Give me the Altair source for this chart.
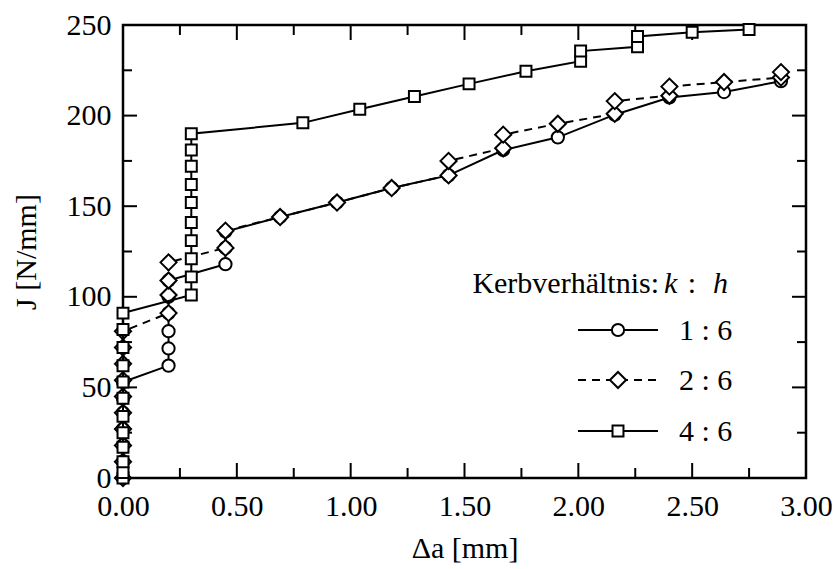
import altair as alt
import pandas as pd

# ---- data ----
series_names = ["1 : 6", "2 : 6", "4 : 6"]

da_16 = [0, 0, 0, 0, 0, 0, 0, 0.2, 0.2, 0.2, 0.2, 0.2, 0.2, 0.45, 0.45, 0.45,
         0.69, 0.94, 1.18, 1.43, 1.67, 1.91, 2.16, 2.40, 2.64, 2.89]
j_16 = [0, 9, 18, 27, 36, 44, 53, 62, 71.5, 81, 91, 100, 109, 118, 127, 136,
        144, 152, 160, 167, 181, 188, 200.5, 210, 213, 219]

da_26 = [0, 0, 0, 0, 0, 0, 0, 0, 0, 0, 0.2, 0.2, 0.2, 0.2, 0.45, 0.45,
         0.69, 0.94, 1.18, 1.43, 1.43, 1.67, 1.67, 1.91, 2.16, 2.16, 2.40, 2.40,
         2.64, 2.89, 2.89]
j_26 = [0, 9, 18, 27, 36, 45, 54, 63, 72, 81, 91, 101, 109, 119, 127, 136.5,
        144, 152, 160, 167, 175, 182, 189.5, 195.5, 201, 208, 211, 216,
        218.5, 221, 224]

da_46 = [0, 0, 0, 0, 0, 0, 0, 0, 0, 0, 0, 0,
         0.3, 0.3, 0.3, 0.3, 0.3, 0.3, 0.3, 0.3, 0.3, 0.3,
         0.79, 1.04, 1.28, 1.52, 1.77, 2.01, 2.01, 2.26, 2.26, 2.50, 2.75]
j_46 = [0, 3, 9, 17, 25, 34, 44, 53, 62, 72, 82, 91,
        101, 111, 121, 131, 141, 152, 162, 172, 181, 190,
        196, 203.5, 210.5, 217.5, 224.5, 230, 235.6, 238, 243.7, 246, 247.5]

x_ticks_major = [0, 0.5, 1.0, 1.5, 2.0, 2.5, 3.0]
x_ticks_minor = [0.25, 0.75, 1.25, 1.75, 2.25, 2.75]
y_ticks_major = [0, 50, 100, 150, 200, 250]
y_ticks_minor = [25, 75, 125, 175, 225]

W, H = 683, 453
FONT = "Liberation Serif"
FS = 30
LW = 2

xs = alt.Scale(domain=[0, 3], nice=False, zero=False)
ys = alt.Scale(domain=[0, 250], nice=False, zero=False)

X_AX = alt.Axis(
    values=x_ticks_major, format=".2f", title="Δa [mm]", grid=False,
    ticks=False, domain=False, labelPadding=13, labelFont=FONT,
    labelFontSize=FS, labelColor="black", titleFont=FONT, titleFontSize=FS,
    titleFontWeight="normal", titleColor="black", titleY=79,
    titleBaseline="alphabetic", labelFlush=False)
Y_AX = alt.Axis(
    values=y_ticks_major, format="d", title="J [N/mm]", grid=False,
    ticks=False, domain=False, labelPadding=12, labelFont=FONT,
    labelFontSize=FS, labelColor="black", titleFont=FONT, titleFontSize=FS,
    titleFontWeight="normal", titleColor="black", titleX=-88, titleY=H / 2,
    titleBaseline="alphabetic", labelFlush=False)


def X():
    return alt.X("da:Q", scale=xs, axis=X_AX)


def Y():
    return alt.Y("J:Q", scale=ys, axis=Y_AX)


def sdf(x, j):
    return pd.DataFrame({"da": x, "J": j, "idx": list(range(len(x)))})


def series_layers(x, j, shape, size, dash):
    d = sdf(x, j)
    line_kw = dict(color="black", strokeWidth=LW)
    if dash:
        line_kw["strokeDash"] = dash
    line = alt.Chart(d).mark_line(**line_kw).encode(x=X(), y=Y(), order="idx:Q")
    pts = alt.Chart(d).mark_point(
        shape=shape, size=size, filled=True, fill="white", stroke="black",
        strokeWidth=LW, opacity=1,
    ).encode(x=X(), y=Y())
    return [line, pts]


def xtick_layer(vals, length):
    d = pd.DataFrame({"da": vals})
    bot = alt.Chart(d).mark_rule(color="black", strokeWidth=LW).encode(
        x=X(), y=alt.value(H), y2=alt.value(H - length))
    top = alt.Chart(d).mark_rule(color="black", strokeWidth=LW).encode(
        x=X(), y=alt.value(0), y2=alt.value(length))
    return [bot, top]


def ytick_layer(vals, length):
    d = pd.DataFrame({"J": vals})
    left = alt.Chart(d).mark_rule(color="black", strokeWidth=LW).encode(
        y=Y(), x=alt.value(0), x2=alt.value(length))
    right = alt.Chart(d).mark_rule(color="black", strokeWidth=LW).encode(
        y=Y(), x=alt.value(W), x2=alt.value(W - length))
    return [left, right]


layers = (xtick_layer(x_ticks_major, 15) + xtick_layer(x_ticks_minor, 10)
          + ytick_layer(y_ticks_major, 14) + ytick_layer(y_ticks_minor, 9))
layers += series_layers(da_16, j_16, "circle", 150, None)
layers += series_layers(da_26, j_26, "diamond", 260, [8, 6])
layers += series_layers(da_46, j_46, "square", 120, None)

# ---- manual legend ----
one = pd.DataFrame({"a": [0]})


def legend_text(txt, x, y, align="left", style="normal"):
    return alt.Chart(one).mark_text(
        text=txt, align=align, baseline="alphabetic", font=FONT, fontSize=FS,
        fontStyle=style, color="black").encode(x=alt.value(x), y=alt.value(y))


layers += [
    legend_text("Kerbverhältnis:", 536, 268, align="right"),
    legend_text("k", 541, 268, style="italic"),
    legend_text(":", 569, 268, align="center"),
    legend_text("h", 590, 268, style="italic"),
]

leg_shapes = ["circle", "diamond", "square"]
leg_sizes = [150, 260, 120]
leg_dash = [None, [8, 6], None]
row_y = [305, 355, 406]
for name, shp, sz, dsh, yy in zip(series_names, leg_shapes, leg_sizes, leg_dash, row_y):
    kw = dict(color="black", strokeWidth=LW)
    if dsh:
        kw["strokeDash"] = dsh
    layers.append(alt.Chart(one).mark_rule(**kw).encode(
        x=alt.value(455), x2=alt.value(535), y=alt.value(yy)))
    layers.append(alt.Chart(one).mark_point(
        shape=shp, size=sz, filled=True, fill="white", stroke="black",
        strokeWidth=LW, opacity=1).encode(x=alt.value(495), y=alt.value(yy)))
    layers.append(legend_text(name, 556, yy + 10))

chart = alt.layer(*layers).properties(
    width=W, height=H,
    autosize=alt.AutoSizeParams(type="none"),
    padding={"left": 123, "top": 25, "right": 30, "bottom": 91},
    background="white",
).configure_view(stroke="black", strokeWidth=2.5)

chart.save("out.html", embed_options={"renderer": "svg", "actions": False})
